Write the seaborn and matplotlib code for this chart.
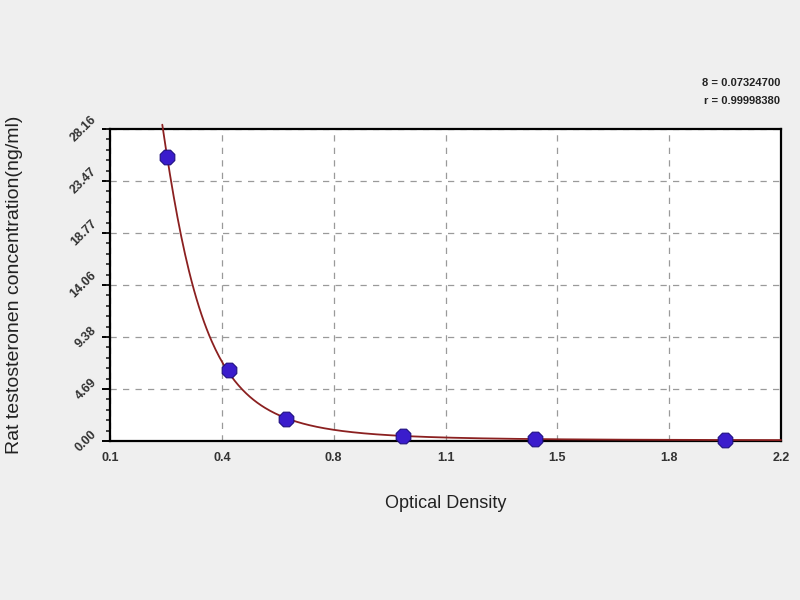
import numpy as np
import pandas as pd
import matplotlib
matplotlib.use("Agg")
import matplotlib.pyplot as plt
import seaborn as sns
from matplotlib.ticker import AutoMinorLocator

# standard points
od = [0.278, 0.472, 0.650, 1.016, 1.430, 2.025]
conc = [25.6, 6.4, 2.0, 0.45, 0.18, 0.09]

x_ticks = [0.1, 0.45, 0.8, 1.15, 1.5, 1.85, 2.2]
x_labels = ["0.1", "0.4", "0.8", "1.1", "1.5", "1.8", "2.2"]
y_ticks = [0.0, 4.693, 9.387, 14.08, 18.773, 23.467, 28.16]
y_labels = ["0.00", "4.69", "9.38", "14.06", "18.77", "23.47", "28.16"]

fit_text = ["8 = 0.07324700", "r = 0.99998380"]

sns.set_theme(style="white")
plt.rcParams['font.family'] = ['Liberation Sans', 'DejaVu Sans']

fig = plt.figure(figsize=(8, 6), dpi=100)
fig.patch.set_facecolor('#efefef')
ax = fig.add_axes([0.1375, 0.265, 0.8388, 0.52])
ax.set_facecolor('white')

# fitted curve (cubic in log-log space through the standards)
coef = np.polyfit(np.log(od), np.log(conc), 3)
xs = np.linspace(0.22, 2.2, 500)
ys = np.exp(np.polyval(coef, np.log(xs)))
keep = ys <= 29.2
curve = pd.DataFrame({'x': xs[keep], 'y': ys[keep]})
sns.lineplot(data=curve, x='x', y='y', ax=ax, color='#8b2020', lw=1.3,
             clip_on=False, zorder=3)

pts = pd.DataFrame({'x': od, 'y': conc})
sns.scatterplot(data=pts, x='x', y='y', ax=ax, marker='8', s=130,
                color='#3a1ccc', edgecolor='#1e0f80', linewidth=0.8,
                zorder=4, clip_on=False)

ax.set_xlim(0.1, 2.2)
ax.set_ylim(0, 28.16)
ax.set_xticks(x_ticks)
ax.set_xticklabels(x_labels)
ax.set_yticks(y_ticks)
ax.set_yticklabels(y_labels, rotation=45, va='center', ha='right')
ax.xaxis.set_minor_locator(AutoMinorLocator(4))
ax.yaxis.set_minor_locator(AutoMinorLocator(5))

ax.grid(True, which='major', linestyle=(0, (5, 5)), color='#9a9a9a', lw=0.9)
for s in ax.spines.values():
    s.set_color('black')
    s.set_linewidth(1.6)

ax.tick_params(axis='x', which='major', direction='in', length=7, width=1.4,
               labelsize=9, colors='black', pad=8)
ax.tick_params(axis='x', which='minor', direction='in', length=4, width=1.2)
ax.tick_params(axis='y', which='major', direction='out', length=6, width=1.4,
               labelsize=9, colors='black', pad=2, left=True)
ax.tick_params(axis='y', which='minor', direction='out', length=3, width=1.2,
               left=True)
for lab in ax.get_xticklabels() + ax.get_yticklabels():
    lab.set_color('#333333')
    lab.set_fontweight('bold')

ax.set_xlabel('Optical Density', fontsize=13, labelpad=22, color='#222222')
ax.set_ylabel('Rat testosteronen concentration(ng/ml)', fontsize=14,
              color='#222222', va='center')
ax.yaxis.set_label_coords(-0.1416, 0.5)

fig.text(0.975, 0.862, fit_text[0], ha='right', va='center', fontsize=8,
         fontweight='bold', color='#222222')
fig.text(0.975, 0.832, fit_text[1], ha='right', va='center', fontsize=8,
         fontweight='bold', color='#222222')

fig.savefig('out.png', dpi=100, facecolor=fig.get_facecolor())
